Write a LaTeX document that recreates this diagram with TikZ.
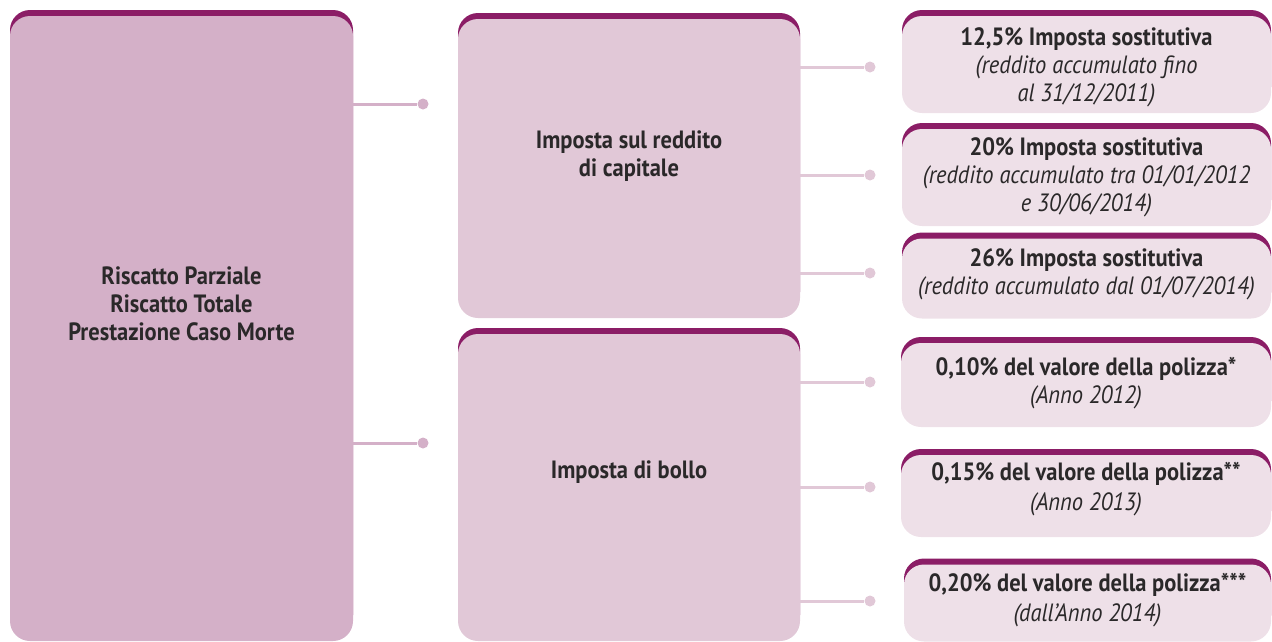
\documentclass[tikz,border=0pt]{standalone}
\usepackage{fontspec}
\setmainfont{PT Sans}[FakeStretch=0.9]
\usetikzlibrary{positioning}

\definecolor{bandcol}{HTML}{8B1D66}
\definecolor{fillA}{HTML}{D4B0C8}
\definecolor{fillB}{HTML}{E1C8D7}
\definecolor{fillC}{HTML}{EEE0E8}
\definecolor{txtcol}{HTML}{2A2829}

\tikzset{
  taxbox/.style={rounded corners=20pt, inner sep=0pt, draw=none,
    preaction={fill=bandcol, transform canvas={yshift=6pt}}},
  boxtext/.style={align=center, text=txtcol, inner sep=0pt,
    font=\fontsize{25}{28}\selectfont\bfseries},
  dot/.style={circle, fill, inner sep=0pt, minimum size=11pt},
  link/.style={line width=3pt}
}

\begin{document}
\begin{tikzpicture}[x=1pt,y=-1pt]
  \useasboundingbox (0,0) rectangle (1272,641);

  % left column
  \node[taxbox, fill=fillA, minimum width=343pt, minimum height=625pt] (riscatto) at (181.5,328.5) {};
  \node[boxtext] (riscattotxt) at (181.5,304) {Riscatto Parziale\\Riscatto Totale\\Prestazione Caso Morte};

  % middle column
  \node[taxbox, fill=fillB, minimum width=342pt, minimum height=299pt] (reddito) at (629,168.5) {};
  \node[boxtext] (redditotxt) at (629,156) {Imposta sul reddito\\di capitale};
  \node[taxbox, fill=fillB, minimum width=342pt, minimum height=307pt] (bollo) at (629,487.5) {};
  \node[boxtext] (bollotxt) at (629,472) {Imposta di bollo};

  % right column
  \node[taxbox, fill=fillC, minimum width=369pt, minimum height=97pt] (r1) at (1086.5,64.5) {};
  \node[boxtext] at (1086.5,67) {12,5\% Imposta sostitutiva\\\mdseries\itshape (reddito accumulato fino\\\mdseries\itshape al 31/12/2011)};
  \node[taxbox, fill=fillC, minimum width=369pt, minimum height=97pt] (r2) at (1086.5,177.5) {};
  \node[boxtext] at (1086.5,177) {20\% Imposta sostitutiva\\\mdseries\itshape (reddito accumulato tra 01/01/2012\\\mdseries\itshape e 30/06/2014)};
  \node[taxbox, fill=fillC, minimum width=369pt, minimum height=80pt] (r3) at (1086.5,278.5) {};
  \node[boxtext] at (1086.5,274) {26\% Imposta sostitutiva\\\mdseries\itshape (reddito accumulato dal 01/07/2014)};
  \node[taxbox, fill=fillC, minimum width=370pt, minimum height=84pt] (r4) at (1086,385) {};
  \node[boxtext] at (1086,383) {0,10\% del valore della polizza*\\\mdseries\itshape (Anno 2012)};
  \node[taxbox, fill=fillC, minimum width=370pt, minimum height=82pt] (r5) at (1086,496) {};
  \node[boxtext] at (1086,489) {0,15\% del valore della polizza**\\[2pt]\mdseries\itshape (Anno 2013)};
  \node[taxbox, fill=fillC, minimum width=367pt, minimum height=77pt] (r6) at (1087.5,603) {};
  \node[boxtext] at (1087.5,600) {0,20\% del valore della polizza***\\[2pt]\mdseries\itshape (dall’Anno 2014)};

  % connectors
  \node[dot, fillA] (d1) at (423,104) {};
  \node[dot, fillA] (d2) at (423,443) {};
  \draw[link, fillA] (riscatto.east |- d1) -- (d1);
  \draw[link, fillA] (riscatto.east |- d2) -- (d2);

  \foreach \y [count=\i] in {67,175,273,382,487,601} {
    \node[dot, fillB] (e\i) at (870,\y) {};
  }
  \foreach \i in {1,2,3} \draw[link, fillB] (reddito.east |- e\i) -- (e\i);
  \foreach \i in {4,5,6} \draw[link, fillB] (bollo.east |- e\i) -- (e\i);
\end{tikzpicture}
\end{document}
